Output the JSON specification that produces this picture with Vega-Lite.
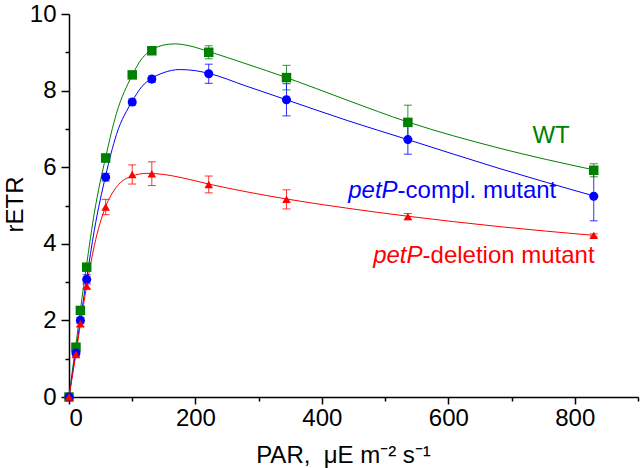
{
  "$schema": "https://vega.github.io/schema/vega-lite/v6.json",
  "width": 569,
  "height": 383,
  "autosize": {"type": "none"},
  "padding": {"left": 69, "top": 14, "right": 3, "bottom": 71},
  "background": "white",
  "config": {
    "font": "Liberation Sans",
    "view": {"stroke": null},
    "axis": {
      "grid": false,
      "domainColor": "black",
      "tickColor": "black",
      "labelColor": "black",
      "titleColor": "black",
      "labelFont": "Liberation Sans",
      "titleFont": "Liberation Sans",
      "labelFontSize": 24,
      "titleFontSize": 24,
      "titleFontWeight": "normal",
      "domainWidth": 1.5,
      "tickWidth": 1.5
    }
  },
  "datasets": {
    "curves": [
      {"series": "WT", "par": 0, "retr": 0},
      {"series": "WT", "par": 5, "retr": 0.65},
      {"series": "WT", "par": 11, "retr": 1.38},
      {"series": "WT", "par": 18, "retr": 2.27},
      {"series": "WT", "par": 28, "retr": 3.47},
      {"series": "WT", "par": 40, "retr": 4.8},
      {"series": "WT", "par": 58, "retr": 6.26},
      {"series": "WT", "par": 75, "retr": 7.4},
      {"series": "WT", "par": 100, "retr": 8.4},
      {"series": "WT", "par": 115, "retr": 8.83},
      {"series": "WT", "par": 131, "retr": 9.06},
      {"series": "WT", "par": 150, "retr": 9.19},
      {"series": "WT", "par": 168, "retr": 9.22},
      {"series": "WT", "par": 190, "retr": 9.17},
      {"series": "WT", "par": 221, "retr": 9.02},
      {"series": "WT", "par": 280, "retr": 8.7},
      {"series": "WT", "par": 344, "retr": 8.34},
      {"series": "WT", "par": 440, "retr": 7.75},
      {"series": "WT", "par": 536, "retr": 7.18},
      {"series": "WT", "par": 680, "retr": 6.5},
      {"series": "WT", "par": 830, "retr": 5.93},
      {"series": "compl", "par": 0, "retr": 0},
      {"series": "compl", "par": 5, "retr": 0.55},
      {"series": "compl", "par": 11, "retr": 1.2},
      {"series": "compl", "par": 18, "retr": 2.0},
      {"series": "compl", "par": 28, "retr": 3.1},
      {"series": "compl", "par": 40, "retr": 4.35},
      {"series": "compl", "par": 58, "retr": 5.78},
      {"series": "compl", "par": 75, "retr": 6.85},
      {"series": "compl", "par": 100, "retr": 7.72},
      {"series": "compl", "par": 115, "retr": 8.1},
      {"series": "compl", "par": 131, "retr": 8.32},
      {"series": "compl", "par": 150, "retr": 8.47},
      {"series": "compl", "par": 175, "retr": 8.55},
      {"series": "compl", "par": 200, "retr": 8.52},
      {"series": "compl", "par": 221, "retr": 8.45},
      {"series": "compl", "par": 280, "retr": 8.12},
      {"series": "compl", "par": 344, "retr": 7.76},
      {"series": "compl", "par": 440, "retr": 7.22},
      {"series": "compl", "par": 536, "retr": 6.72},
      {"series": "compl", "par": 680, "retr": 5.97},
      {"series": "compl", "par": 830, "retr": 5.25},
      {"series": "deletion", "par": 0, "retr": 0},
      {"series": "deletion", "par": 5, "retr": 0.52},
      {"series": "deletion", "par": 11, "retr": 1.12},
      {"series": "deletion", "par": 18, "retr": 1.9},
      {"series": "deletion", "par": 28, "retr": 2.9},
      {"series": "deletion", "par": 40, "retr": 3.95},
      {"series": "deletion", "par": 58, "retr": 4.97},
      {"series": "deletion", "par": 75, "retr": 5.48},
      {"series": "deletion", "par": 100, "retr": 5.77},
      {"series": "deletion", "par": 123, "retr": 5.84},
      {"series": "deletion", "par": 150, "retr": 5.81},
      {"series": "deletion", "par": 180, "retr": 5.72},
      {"series": "deletion", "par": 221, "retr": 5.56},
      {"series": "deletion", "par": 280, "retr": 5.36},
      {"series": "deletion", "par": 344, "retr": 5.17},
      {"series": "deletion", "par": 440, "retr": 4.93},
      {"series": "deletion", "par": 536, "retr": 4.72},
      {"series": "deletion", "par": 680, "retr": 4.45},
      {"series": "deletion", "par": 830, "retr": 4.22}
    ],
    "points": [
      {"series": "WT", "par": 0, "retr": 0, "err": 0.02},
      {"series": "WT", "par": 11, "retr": 1.3, "err": 0.05},
      {"series": "WT", "par": 18, "retr": 2.26, "err": 0.06},
      {"series": "WT", "par": 28, "retr": 3.39, "err": 0.08},
      {"series": "WT", "par": 58, "retr": 6.24, "err": 0.1},
      {"series": "WT", "par": 100, "retr": 8.41, "err": 0.08},
      {"series": "WT", "par": 131, "retr": 9.04, "err": 0.06},
      {"series": "WT", "par": 221, "retr": 9.0, "err": 0.17},
      {"series": "WT", "par": 344, "retr": 8.34, "err": 0.32},
      {"series": "WT", "par": 536, "retr": 7.17, "err": 0.45},
      {"series": "WT", "par": 830, "retr": 5.92, "err": 0.17},
      {"series": "compl", "par": 0, "retr": 0, "err": 0.02},
      {"series": "compl", "par": 11, "retr": 1.15, "err": 0.06},
      {"series": "compl", "par": 18, "retr": 2.0, "err": 0.08},
      {"series": "compl", "par": 28, "retr": 3.07, "err": 0.12},
      {"series": "compl", "par": 58, "retr": 5.74, "err": 0.1},
      {"series": "compl", "par": 100, "retr": 7.7, "err": 0.08},
      {"series": "compl", "par": 131, "retr": 8.3, "err": 0.08},
      {"series": "compl", "par": 221, "retr": 8.44, "err": 0.25},
      {"series": "compl", "par": 344, "retr": 7.76, "err": 0.42},
      {"series": "compl", "par": 536, "retr": 6.72, "err": 0.38},
      {"series": "compl", "par": 830, "retr": 5.24, "err": 0.64},
      {"series": "deletion", "par": 0, "retr": 0, "err": 0.02},
      {"series": "deletion", "par": 11, "retr": 1.11, "err": 0.06},
      {"series": "deletion", "par": 18, "retr": 1.91, "err": 0.07},
      {"series": "deletion", "par": 28, "retr": 2.9, "err": 0.08},
      {"series": "deletion", "par": 58, "retr": 4.96, "err": 0.2},
      {"series": "deletion", "par": 100, "retr": 5.81, "err": 0.25},
      {"series": "deletion", "par": 131, "retr": 5.83, "err": 0.31},
      {"series": "deletion", "par": 221, "retr": 5.55, "err": 0.22},
      {"series": "deletion", "par": 344, "retr": 5.16, "err": 0.25},
      {"series": "deletion", "par": 536, "retr": 4.71, "err": 0.08},
      {"series": "deletion", "par": 830, "retr": 4.22, "err": 0.04}
    ],
    "labels_normal": [
      {"series": "WT", "par": 733, "retr": 6.62, "text": "WT"},
      {"series": "compl", "par": 519.7, "retr": 5.2, "text": "-compl. mutant"},
      {"series": "deletion", "par": 559.2, "retr": 3.49, "text": "-deletion mutant"}
    ],
    "labels_italic": [
      {"series": "compl", "par": 519.7, "retr": 5.2, "text": "petP"},
      {"series": "deletion", "par": 559.2, "retr": 3.49, "text": "petP"}
    ],
    "minor": [
      {"par": 100, "retr": 1}
    ]
  },
  "layer": [
    {
      "data": {"name": "curves"},
      "mark": {"type": "line", "strokeWidth": 1, "interpolate": "monotone"},
      "encoding": {
        "x": {
          "field": "par", "type": "quantitative",
          "scale": {"domain": [0, 900], "nice": false, "zero": false},
          "axis": {
            "values": [0, 200, 400, 600, 800],
            "tickSize": 7,
            "labelPadding": 2,
            "title": "PAR,\u00a0\u00a0μE m⁻² s⁻¹",
            "titleX": 274,
            "titleY": 65,
            "titleBaseline": "alphabetic",
            "titleAlign": "center"
          }
        },
        "y": {
          "field": "retr", "type": "quantitative",
          "scale": {"domain": [0, 10], "nice": false, "zero": false},
          "axis": {
            "values": [0, 2, 4, 6, 8, 10],
            "tickSize": 8,
            "labelPadding": 5,
            "title": "rETR",
            "titleX": -47,
            "titleY": 190,
            "titleBaseline": "alphabetic",
            "titleAlign": "center",
            "titleAngle": -90
          }
        },
        "color": {
          "field": "series", "type": "nominal",
          "scale": {"domain": ["WT", "compl", "deletion"], "range": ["#008000", "#0000ff", "#ff0000"]},
          "legend": null
        }
      }
    },
    {
      "data": {"name": "minor"},
      "mark": {"type": "point", "opacity": 0},
      "encoding": {
        "x": {
          "field": "par", "type": "quantitative",
          "axis": {"orient": "bottom", "values": [100, 300, 500, 700, 900], "tickSize": 4, "labels": false, "domain": false, "title": null}
        },
        "y": {
          "field": "retr", "type": "quantitative",
          "axis": {"orient": "left", "values": [1, 3, 5, 7, 9], "tickSize": 4, "labels": false, "domain": false, "title": null}
        }
      }
    },
    {
      "data": {"name": "points"},
      "mark": {"type": "errorbar", "ticks": {"size": 8, "thickness": 1}, "thickness": 1, "opacity": 0.8},
      "encoding": {
        "x": {"field": "par", "type": "quantitative", "axis": null},
        "y": {"field": "retr", "type": "quantitative", "axis": null},
        "yError": {"field": "err"},
        "color": {"field": "series", "type": "nominal", "legend": null}
      }
    },
    {
      "data": {"name": "points"},
      "mark": {"type": "point", "filled": true, "opacity": 1, "strokeWidth": 0},
      "encoding": {
        "x": {"field": "par", "type": "quantitative", "axis": null},
        "y": {"field": "retr", "type": "quantitative", "axis": null},
        "color": {"field": "series", "type": "nominal", "legend": null},
        "shape": {
          "field": "series", "type": "nominal",
          "scale": {"domain": ["WT", "compl", "deletion"], "range": ["square", "circle", "triangle-up"]},
          "legend": null
        },
        "size": {
          "field": "series", "type": "nominal",
          "scale": {"domain": ["WT", "compl", "deletion"], "range": [90, 74, 115]},
          "legend": null
        }
      }
    },
    {
      "data": {"name": "labels_normal"},
      "mark": {"type": "text", "align": "left", "baseline": "alphabetic", "fontSize": 24, "font": "Liberation Sans"},
      "encoding": {
        "x": {"field": "par", "type": "quantitative", "axis": null},
        "y": {"field": "retr", "type": "quantitative", "axis": null},
        "text": {"field": "text"},
        "color": {"field": "series", "type": "nominal", "legend": null}
      }
    },
    {
      "data": {"name": "labels_italic"},
      "mark": {"type": "text", "align": "right", "baseline": "alphabetic", "fontSize": 24, "fontStyle": "italic", "font": "Liberation Sans"},
      "encoding": {
        "x": {"field": "par", "type": "quantitative", "axis": null},
        "y": {"field": "retr", "type": "quantitative", "axis": null},
        "text": {"field": "text"},
        "color": {"field": "series", "type": "nominal", "legend": null}
      }
    }
  ],
  "resolve": {"axis": {"x": "independent", "y": "independent"}}
}
